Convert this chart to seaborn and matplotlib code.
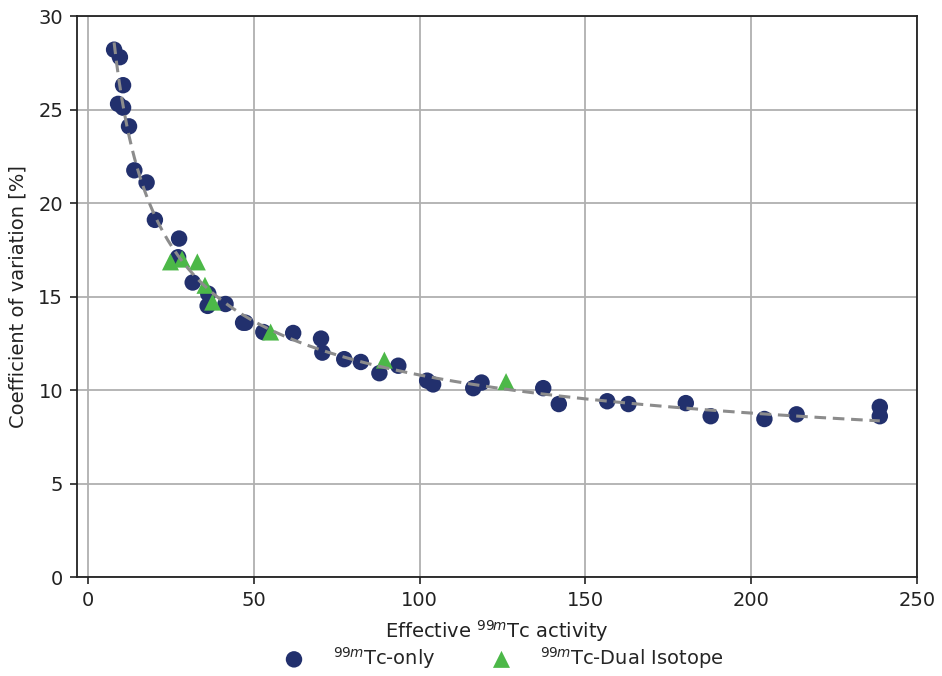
import numpy as np
import pandas as pd
import matplotlib
matplotlib.use("Agg")
import matplotlib.pyplot as plt
import seaborn as sns

# Tc-99m only acquisitions: effective activity vs coefficient of variation
tc_only_activity = [7.9, 9.65, 10.6, 9.1, 10.6, 12.4, 14.0, 17.7, 20.2, 27.5, 27.2,
                    31.6, 36.3, 36.1, 41.5, 46.8, 47.5, 52.9, 61.9, 70.3, 70.7, 77.3,
                    82.3, 87.9, 93.6, 102.3, 104.1, 116.2, 118.7, 137.3, 142.0,
                    156.6, 163.0, 180.3, 187.8, 204.0, 213.7, 238.8, 238.8]
tc_only_cv = [28.2, 27.8, 26.3, 25.3, 25.1, 24.1, 21.75, 21.1, 19.1, 18.1, 17.1,
              15.75, 15.15, 14.5, 14.6, 13.6, 13.6, 13.1, 13.05, 12.75, 12.0, 11.65,
              11.5, 10.9, 11.3, 10.5, 10.3, 10.1, 10.4, 10.1, 9.25,
              9.4, 9.25, 9.3, 8.6, 8.45, 8.7, 9.1, 8.6]

# Dual-isotope acquisitions
dual_activity = [24.9, 28.4, 33.0, 35.3, 37.6, 55.1, 89.4, 126.1]
dual_cv = [16.85, 17.0, 16.85, 15.6, 14.7, 13.1, 11.6, 10.45]

x_ticks = [0, 50, 100, 150, 200, 250]
y_ticks = [0, 5, 10, 15, 20, 25, 30]

navy = "#22306d"
green = "#4cb848"

sns.set_theme(style="ticks")
plt.rcParams["font.family"] = ["DejaVu Sans"]
plt.rcParams["mathtext.fontset"] = "dejavusans"

fig = plt.figure(figsize=(9.42, 6.76), dpi=100)
ax = fig.add_axes([0.0817, 0.1464, 0.8917, 0.8299])

df_only = pd.DataFrame({"activity": tc_only_activity, "cv": tc_only_cv})
df_dual = pd.DataFrame({"activity": dual_activity, "cv": dual_cv})

# Fit CV = a / sqrt(A) + c to all measurements
all_x = np.array(tc_only_activity + dual_activity)
all_y = np.array(tc_only_cv + dual_cv)
design = np.column_stack([1.0 / np.sqrt(all_x), np.ones_like(all_x)])
(a_coef, c_coef), *_ = np.linalg.lstsq(design, all_y, rcond=None)
x_fit = np.linspace(all_x.min(), all_x.max(), 300)
y_fit = a_coef / np.sqrt(x_fit) + c_coef

sns.scatterplot(data=df_only, x="activity", y="cv", ax=ax, color=navy,
                marker="o", s=140, edgecolor="none",
                label=r"$^{99m}$Tc-only", zorder=3)
sns.scatterplot(data=df_dual, x="activity", y="cv", ax=ax, color=green,
                marker="^", s=150, edgecolor="none",
                label=r"$^{99m}$Tc-Dual Isotope", zorder=4)
sns.lineplot(x=x_fit, y=y_fit, ax=ax, color="#8c8c8c", linestyle=(0, (3.8, 2.2)),
             linewidth=2.2, zorder=5, legend=False)

ax.set_xlim(-3.3, 250)
ax.set_ylim(0, 30)
ax.set_xticks(x_ticks)
ax.set_yticks(y_ticks)
ax.grid(True, color="#b0b0b0", linewidth=1.3)
ax.set_axisbelow(True)
for sp in ax.spines.values():
    sp.set_color("#222222")
    sp.set_linewidth(1.3)
ax.tick_params(axis="both", labelsize=14, colors="#222222", length=5, width=1.2, pad=5)

ax.set_xlabel(r"Effective $^{99m}$Tc activity", fontsize=14, color="#222222", labelpad=6)
ax.set_ylabel("Coefficient of variation [%]", fontsize=14, color="#222222", labelpad=8)

handles, labels = ax.get_legend_handles_labels()
ax.get_legend().remove()
fig.legend(handles, labels, loc="lower center", bbox_to_anchor=(0.53, -0.018),
           ncol=2, frameon=False, fontsize=14, markerscale=1.0,
           columnspacing=2.4, handletextpad=1.0, handlelength=2.0)

fig.savefig("out.png", dpi=100, facecolor="white")
